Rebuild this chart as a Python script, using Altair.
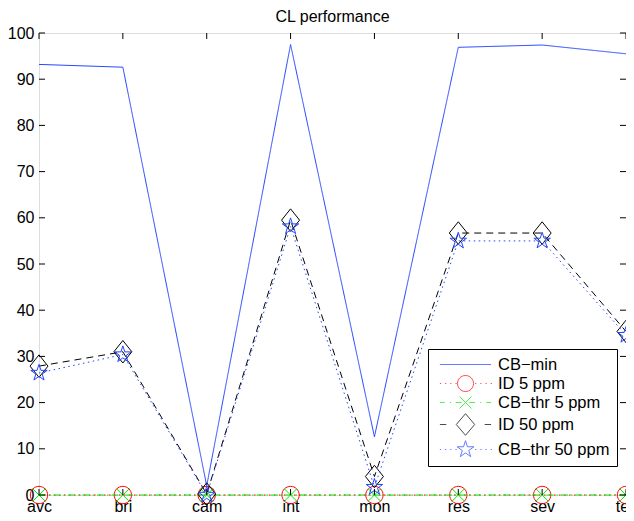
import altair as alt
import pandas as pd

categories = ["avc", "bri", "cam", "int", "mon", "res", "sev", "tex"]
series_names = ["CB\u2212min", "ID 5 ppm", "CB\u2212thr 5 ppm", "ID 50 ppm", "CB\u2212thr 50 ppm"]
cb_min = [93.2, 92.6, 2.0, 97.5, 12.6, 96.9, 97.4, 95.5]
id_5 = [0.0, 0.0, 0.0, 0.0, 0.0, 0.0, 0.0, 0.0]
cb_thr_5 = [0.0, 0.0, 0.0, 0.0, 0.0, 0.0, 0.0, 0.0]
id_50 = [27.9, 31.0, 0.2, 59.5, 4.0, 56.7, 56.7, 35.4]
cb_thr_50 = [26.4, 30.4, 0.0, 58.1, 1.7, 55.0, 55.0, 34.6]
y_ticks = [0, 10, 20, 30, 40, 50, 60, 70, 80, 90, 100]

colors = ["#2244ff", "#ff0000", "#00ee00", "#000000", "#2244ff"]
dashes = [[1, 0], [1.5, 3.5], [7, 3, 1.5, 3], [7, 5], [1.5, 3.5]]

FONT = "Liberation Sans"
W, H = 587, 462

rows = []
for name, vals in zip(series_names, [cb_min, id_5, cb_thr_5, id_50, cb_thr_50]):
    for c, v in zip(categories, vals):
        rows.append({"cat": c, "val": v, "s": name})
df = pd.DataFrame(rows)

# marker shapes
CIRCLE = "M1,0A1,1 0 1,1 -1,0A1,1 0 1,1 1,0Z"
XMARK = "M-0.75,-0.75L0.75,0.75M-0.75,0.75L0.75,-0.75"
DIAMOND = "M0,-1.25L1,0L0,1.25L-1,0Z"
STAR = ("M0,-1L0.2245,-0.309L0.9511,-0.309L0.3633,0.118L0.5878,0.809L0,0.382"
        "L-0.5878,0.809L-0.3633,0.118L-0.9511,-0.309L-0.2245,-0.309Z")
markers = [None, CIRCLE, XMARK, DIAMOND, STAR]

# legend symbols (line + marker), unit = 8px
def segs(pairs):
    return "".join(f"M{a},0L{b},0" for a, b in pairs)

dots_l = [(-3.2 + 0.65 * i, -3.2 + 0.65 * i + 0.15) for i in range(4)]
dots_r = [(1.2 + 0.65 * i, 1.2 + 0.65 * i + 0.15) for i in range(4)]
LEG_PATHS = [
    "M-3.2,0L3.2,0",
    segs(dots_l + dots_r) + CIRCLE,
    segs([(-3.2, -2.6), (-1.95, -1.8), (-1.2, -0.5), (0.5, 1.2), (1.8, 1.95), (2.6, 3.2)]) + XMARK,
    segs([(-3.2, -2.4), (2.4, 3.2)]) + "M0,-1.35L1.15,0L0,1.35L-1.15,0Z",
    segs(dots_l + dots_r) + "M0,-1.1L0.247,-0.34L1.046,-0.34L0.4,0.13L0.647,0.89L0,0.42L-0.647,0.89L-0.4,0.13L-1.046,-0.34L-0.247,-0.34Z",
]

xenc = alt.X("cat:N", sort=categories,
             scale=alt.Scale(type="point", domain=categories, padding=0),
             axis=alt.Axis(title=None, domain=False, ticks=False, labelAngle=0,
                           labelPadding=3, labelFontSize=16, labelFont=FONT,
                           labelColor="black", grid=False))
yenc = alt.Y("val:Q", scale=alt.Scale(domain=[0, 100], nice=False, zero=False),
             axis=alt.Axis(title=None, domain=False, ticks=False, values=y_ticks,
                           labelPadding=5, labelFontSize=16, labelFont=FONT,
                           labelColor="black", grid=False))

base = alt.Chart(df)
layers = []
for i, name in enumerate(series_names):
    sub = base.transform_filter(alt.datum.s == name)
    layers.append(sub.mark_line(color=colors[i], strokeWidth=1, strokeDash=dashes[i])
                  .encode(x=xenc, y=yenc))
    if markers[i]:
        layers.append(sub.mark_point(shape=markers[i], size=300 if i != 3 else 324,
                                     filled=False, color=colors[i], strokeWidth=1, opacity=1)
                      .encode(x=xenc, y=yenc))

# inward ticks
yt = alt.Chart(pd.DataFrame({"val": y_ticks}))
layers.append(yt.mark_rule(color="black", strokeWidth=1).encode(
    y=yenc, x=alt.value(0), x2=alt.value(6)))
layers.append(yt.mark_rule(color="black", strokeWidth=1).encode(
    y=yenc, x=alt.value(W - 6), x2=alt.value(W)))
xt = alt.Chart(pd.DataFrame({"cat": categories}))
layers.append(xt.mark_rule(color="black", strokeWidth=1).encode(
    x=xenc, y=alt.value(0), y2=alt.value(6)))
layers.append(xt.mark_rule(color="black", strokeWidth=1).encode(
    x=xenc, y=alt.value(H - 6), y2=alt.value(H)))

# legend carrier (clipped out of view)
leg_df = pd.DataFrame({"s": series_names, "cat": ["avc"] * 5, "val": [-500.0] * 5})
legend = alt.Legend(title=None,
                    orient="none", legendX=389, legendY=316,
                    padding=7, strokeColor="black", fillColor="white",
                    labelFont=FONT, labelFontSize=16.5, labelColor="black",
                    symbolSize=256, symbolStrokeWidth=1, symbolFillColor="transparent",
                    rowPadding=0, labelOffset=24, symbolOffset=22, labelLimit=300)
layers.append(alt.Chart(leg_df).mark_point(filled=False, clip=True, strokeWidth=1).encode(
    x=xenc, y=yenc,
    color=alt.Color("s:N", scale=alt.Scale(domain=series_names, range=colors), legend=legend),
    shape=alt.Shape("s:N", scale=alt.Scale(domain=series_names, range=LEG_PATHS), legend=legend),
))

chart = alt.layer(*layers).properties(
    width=W, height=H,
    title=alt.Title("CL performance", fontSize=16, font=FONT, fontWeight="normal",
                    color="black", offset=0, frame="group", anchor="middle"),
    autosize=alt.AutoSizeParams(type="none"),
    padding={"left": 31, "top": 25, "right": 0, "bottom": 18},
).configure_view(stroke="black", strokeWidth=1).configure(background="white")

chart.save("out.html", embed_options={"renderer": "svg", "actions": False})
